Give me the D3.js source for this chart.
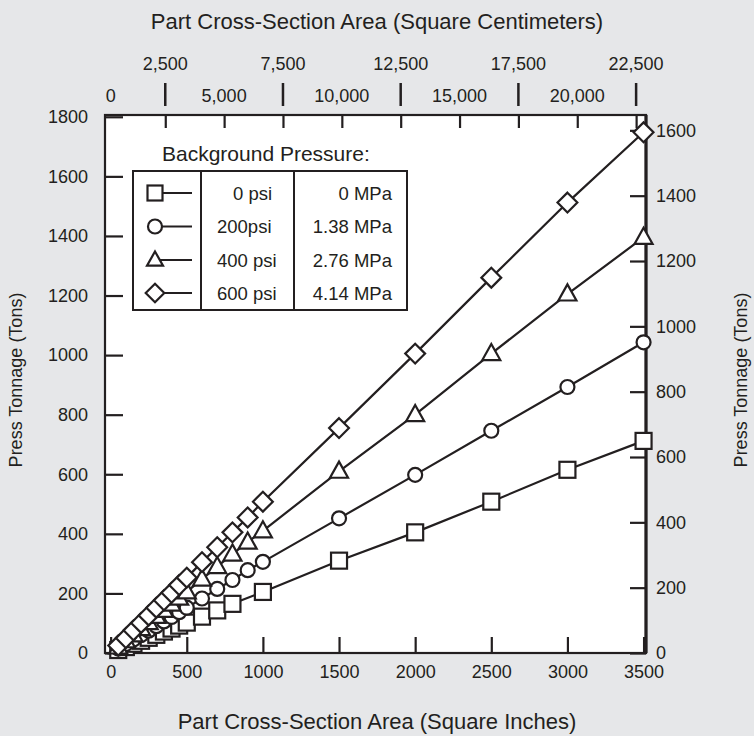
<!DOCTYPE html>
<html>
<head>
<meta charset="utf-8">
<script src="https://cdn.jsdelivr.net/npm/d3@7"></script>
<style>
  html, body { margin: 0; padding: 0; background: #e6e7e9; }
  text { font-family: "Liberation Sans", Arial, Helvetica, sans-serif; fill: #231f20; }
</style>
</head>
<body>
<svg id="chart" width="754" height="736"></svg>
<script>
// ---- data ----
const areasSq = [50,100,150,200,250,300,350,400,450,500,600,700,800,1000,1500,2000,2500,3000,3500];
const areas   = [50,100,150,200,250,300,350,400,450,500,600,700,800,900,1000,1500,2000,2500,3000,3500];
const tons0   = [10,20,31,41,51,61,72,82,92,102,122,143,165,205,310,405,508,615,712];
const tons200 = [15,30,45,60,75,90,106,121,137,152,183,215,245,278,306,452,598,746,893,1043];
const tons400 = [20,41,61,82,102,123,143,164,184,205,248,290,332,372,410,610,800,1005,1205,1395];
const tons600 = [25,50,76,101,126,152,177,202,228,253,305,355,405,455,508,755,1005,1260,1512,1748];

const seriesNames = ["0 psi", "200psi", "400 psi", "600 psi"];
const seriesMPa   = ["0 MPa", "1.38 MPa", "2.76 MPa", "4.14 MPa"];
const seriesShapes = ["square", "circle", "triangle", "diamond"];

const bottomTicks = [0,500,1000,1500,2000,2500,3000,3500];
const leftTicks   = [0,200,400,600,800,1000,1200,1400,1600,1800];
const rightTicks  = [0,200,400,600,800,1000,1200,1400,1600];
const topTicksOdd  = [2500,7500,12500,17500,22500];
const topTicksEven = [0,5000,10000,15000,20000];
const topTicksAll  = [2500,5000,7500,10000,12500,15000,17500,20000,22500];

const titleTop = "Part Cross-Section Area (Square Centimeters)";
const titleBottom = "Part Cross-Section Area (Square Inches)";
const titleY = "Press Tonnage (Tons)";
const legendTitle = "Background Pressure:";

// ---- layout ----
const L = 105, R = 646, T = 115, B = 653;
const svg = d3.select("#chart");

const x  = d3.scaleLinear().domain([-37, 3516]).range([L, R]);
const xc = d3.scaleLinear().domain([-60, 22920]).range([L, R]);
const y  = d3.scaleLinear().domain([0, 1806]).range([B, T]);
const yr = d3.scaleLinear().domain([0, 1647]).range([B, T]);

svg.append("rect").attr("x", L).attr("y", T).attr("width", R - L).attr("height", B - T)
  .attr("fill", "#fff");

const FS = 18;

function styleAxis(g) {
  g.select(".domain").remove();
  g.selectAll(".tick line").attr("stroke", "#231f20").attr("stroke-width", 2.2);
  g.selectAll(".tick text").style("font-size", FS + "px").attr("fill", "#231f20");
}

svg.append("g").attr("transform", `translate(0,${B})`)
  .call(d3.axisBottom(x).tickValues(bottomTicks).tickSize(-16).tickPadding(12).tickFormat(d3.format("d")))
  .call(styleAxis);

svg.append("g").attr("transform", `translate(${L},0)`)
  .call(d3.axisLeft(y).tickValues(leftTicks).tickSize(-18).tickPadding(17).tickFormat(d3.format("d")))
  .call(styleAxis);

svg.append("g").attr("transform", `translate(${R},0)`)
  .call(d3.axisRight(yr).tickValues(rightTicks).tickSize(-16).tickPadding(10).tickFormat(d3.format("d")))
  .call(styleAxis);

svg.append("g").attr("transform", `translate(0,${T})`)
  .call(d3.axisTop(xc).tickValues(topTicksAll).tickSize(-13).tickFormat(""))
  .call(styleAxis);

const fmt = d3.format(",");
svg.append("g").selectAll("line").data(topTicksOdd).join("line")
  .attr("x1", d => xc(d)).attr("x2", d => xc(d)).attr("y1", 83).attr("y2", 106)
  .attr("stroke", "#231f20").attr("stroke-width", 2.5);
svg.append("g").selectAll("text").data(topTicksOdd).join("text")
  .attr("x", d => xc(d)).attr("y", 70).attr("text-anchor", "middle")
  .style("font-size", FS + "px").text(d => fmt(d));
svg.append("g").selectAll("text").data(topTicksEven).join("text")
  .attr("x", d => d === 0 ? x(0) : xc(d)).attr("y", 102).attr("text-anchor", "middle")
  .style("font-size", FS + "px").text(d => fmt(d));

svg.append("rect").attr("x", L).attr("y", T).attr("width", R - L).attr("height", B - T)
  .attr("fill", "none").attr("stroke", "#231f20").attr("stroke-width", 2.2);
svg.append("line").attr("x1", R).attr("x2", R).attr("y1", T).attr("y2", B)
  .attr("stroke", "#231f20").attr("stroke-width", 3.2);

svg.append("text").attr("x", 377).attr("y", 29).attr("text-anchor", "middle")
  .style("font-size", "22px").text(titleTop);
svg.append("text").attr("x", 377).attr("y", 729).attr("text-anchor", "middle")
  .style("font-size", "22px").text(titleBottom);
svg.append("text").attr("transform", "translate(22,380) rotate(-90)").attr("text-anchor", "middle")
  .style("font-size", "18px").text(titleY);
svg.append("text").attr("transform", "translate(747,380) rotate(-90)").attr("text-anchor", "middle")
  .style("font-size", "18px").text(titleY);

function drawMarker(g, shape, cx, cy, s) {
  const st = { fill: "#fff", stroke: "#231f20", "stroke-width": 2.2 };
  let el;
  if (shape === "square") {
    el = g.append("rect").attr("x", cx - s / 2).attr("y", cy - s / 2).attr("width", s).attr("height", s);
  } else if (shape === "circle") {
    el = g.append("circle").attr("cx", cx).attr("cy", cy).attr("r", s / 2 - 0.5);
  } else if (shape === "triangle") {
    const h = s * 0.95;
    el = g.append("path").attr("d", `M${cx},${cy - h * 0.6}L${cx + s / 2 + 0.5},${cy + h * 0.4}L${cx - s / 2 - 0.5},${cy + h * 0.4}Z`);
  } else {
    const r = s * 0.62;
    el = g.append("path").attr("d", `M${cx},${cy - r}L${cx + r},${cy}L${cx},${cy + r}L${cx - r},${cy}Z`);
  }
  for (const k in st) el.attr(k, st[k]);
}

const series = [
  { xs: areasSq, ys: tons0,   shape: seriesShapes[0], size: 16 },
  { xs: areas,   ys: tons200, shape: seriesShapes[1], size: 15 },
  { xs: areas,   ys: tons400, shape: seriesShapes[2], size: 17 },
  { xs: areas,   ys: tons600, shape: seriesShapes[3], size: 16 }
];

const line = d3.line().x(d => x(d[0])).y(d => y(d[1]));
const gl = svg.append("g");
series.forEach(s => {
  gl.append("path").datum(s.xs.map((v, i) => [v, s.ys[i]]))
    .attr("d", line).attr("fill", "none").attr("stroke", "#231f20").attr("stroke-width", 2.2);
});
const gm = svg.append("g");
series.forEach(s => {
  s.xs.forEach((v, i) => drawMarker(gm, s.shape, x(v), y(s.ys[i]), s.size));
});

const lg = svg.append("g");
lg.append("text").attr("x", 162).attr("y", 161).style("font-size", "21px").text(legendTitle);
const lx0 = 133, lx1 = 201, lx2 = 294, lx3 = 407, ly0 = 171, ly1 = 310;
lg.append("rect").attr("x", lx0).attr("y", ly0).attr("width", lx3 - lx0).attr("height", ly1 - ly0)
  .attr("fill", "#fff").attr("stroke", "#231f20").attr("stroke-width", 2);
[lx1, lx2].forEach(xx => lg.append("line").attr("x1", xx).attr("x2", xx).attr("y1", ly0).attr("y2", ly1)
  .attr("stroke", "#231f20").attr("stroke-width", 2));
const rowY = [193, 226.5, 260, 293];
const labelX = [233, 217, 217, 217];
seriesNames.forEach((nm, i) => {
  const yy = rowY[i];
  lg.append("line").attr("x1", 155).attr("x2", 192).attr("y1", yy).attr("y2", yy)
    .attr("stroke", "#231f20").attr("stroke-width", 2);
  drawMarker(lg, seriesShapes[i], 155, yy, 15);
  lg.append("text").attr("x", labelX[i]).attr("y", yy + 6.5)
    .style("font-size", "18.5px").text(nm);
  lg.append("text").attr("x", 392).attr("y", yy + 6.5).attr("text-anchor", "end")
    .style("font-size", "18.5px").text(seriesMPa[i]);
});
</script>
</body>
</html>
